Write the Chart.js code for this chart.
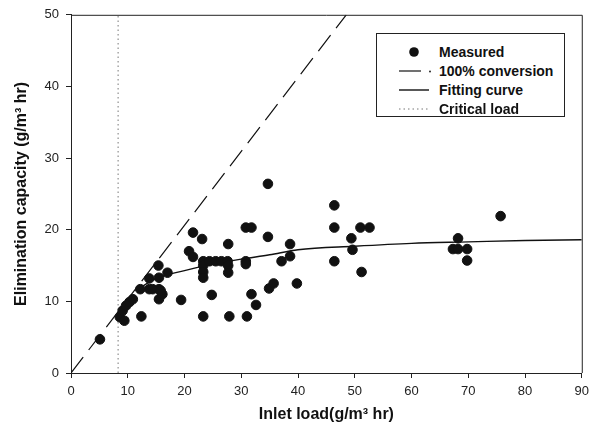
<!DOCTYPE html>
<html>
<head>
<meta charset="utf-8">
<script src="https://cdn.jsdelivr.net/npm/chart.js@4.4.0/dist/chart.umd.min.js"></script>
<style>
  body { margin: 0; background: #fff; }
  #wrap { position: relative; width: 595px; height: 437px; }
  #chart { position: absolute; left: 0; top: 0; }
  #legend {
    position: absolute; left: 376px; top: 33px; width: 189px; height: 84px;
    box-sizing: border-box; border: 1px solid #222; background: #fff;
    font: bold 14px "Liberation Sans", Arial, sans-serif; color: #111;
  }
  .row { position: absolute; left: 0; height: 18px; width: 100%; }
  .row svg { position: absolute; left: 20px; top: 0; }
  .row span { position: absolute; left: 62px; top: 0; line-height: 18px; }
</style>
</head>
<body>
<div id="wrap">
  <canvas id="chart" width="595" height="437"></canvas>
  <div id="legend">
    <div class="row" style="top:9px"><svg width="32" height="18"><circle cx="17" cy="9" r="4.8" fill="#111"/></svg><span>Measured</span></div>
    <div class="row" style="top:28px"><svg width="36" height="18"><line x1="2" y1="9" x2="24" y2="9" stroke="#111" stroke-width="1.2"/><circle cx="33" cy="9.5" r="0.9" fill="#111"/></svg><span>100% conversion</span></div>
    <div class="row" style="top:47px"><svg width="32" height="18"><line x1="2" y1="9" x2="32" y2="9" stroke="#111" stroke-width="1.4"/></svg><span>Fitting curve</span></div>
    <div class="row" style="top:66px"><svg width="32" height="18"><line x1="2" y1="9" x2="32" y2="9" stroke="#777" stroke-width="1" stroke-dasharray="1.5 3"/></svg><span>Critical load</span></div>
  </div>
</div>
<script>
// measured points (inlet load vs elimination capacity)
const measX = [5.1, 8.6, 9.4, 9.1, 9.7, 10.3, 10.9, 12.4, 12.2, 13.8, 13.8, 15.4, 15.5, 17.0, 15.5, 15.5, 16.1, 14.4, 15.8,
  19.4, 21.5, 23.1, 20.8, 21.5, 23.3, 23.3, 23.3, 23.3, 24.4, 25.5, 26.5, 27.6, 27.7, 27.7, 27.7, 24.8, 23.3, 27.9,
  31.0, 31.8, 32.6, 30.8, 31.8, 30.8, 30.8, 34.7, 34.7, 37.1, 38.6, 38.6, 34.9, 35.7, 39.8,
  46.4, 46.4, 46.4, 49.4, 49.6, 51.0, 52.6, 51.2, 68.2, 67.3, 68.2, 69.8, 69.8, 75.7];
const measY = [4.7, 7.8, 7.3, 8.7, 9.4, 9.9, 10.3, 7.9, 11.7, 11.7, 13.2, 15.0, 13.3, 14.0, 11.7, 10.3, 11.0, 11.7, 11.5,
  10.2, 19.6, 18.7, 17.0, 16.2, 15.6, 15.0, 14.1, 13.3, 15.6, 15.6, 15.6, 15.6, 15.0, 14.0, 18.0, 10.9, 7.9, 7.9,
  7.9, 11.0, 9.5, 20.3, 20.3, 15.6, 15.2, 26.4, 19.0, 15.6, 18.0, 16.3, 11.8, 12.5, 12.5,
  23.4, 20.3, 15.6, 18.8, 17.2, 20.3, 20.3, 14.1, 18.8, 17.3, 17.3, 17.3, 15.7, 21.9];

// fitting curve
const fitX = [12, 15, 20, 25, 30, 35, 40, 50, 60, 70, 80, 90];
const fitY = [11.8, 13.2, 14.3, 15.2, 15.9, 16.5, 17.2, 17.7, 18.1, 18.3, 18.5, 18.6];

// 100% conversion and critical load lines
const convX = [0, 48.5];
const convY = [0, 50];
const critX = [8.3, 8.3];
const critY = [0, 50];

const xTicks = [0, 10, 20, 30, 40, 50, 60, 70, 80, 90];
const yTicks = [0, 10, 20, 30, 40, 50];

function pairs(xs, ys) {
    return xs.map((x, i) => ({ x: x, y: ys[i] }));
}

// frame on top and right of the plot
const framePlugin = {
    id: 'frame',
    afterDatasetsDraw(chart) {
        const a = chart.chartArea;
        const ctx = chart.ctx;
        ctx.save();
        ctx.strokeStyle = '#222';
        ctx.lineWidth = 1;
        ctx.beginPath();
        ctx.moveTo(a.left, a.top + 0.5);
        ctx.lineTo(a.right + 0.5, a.top + 0.5);
        ctx.lineTo(a.right + 0.5, a.bottom);
        ctx.stroke();
        ctx.restore();
    }
};

const tickFont = { family: '"Liberation Sans", Arial, sans-serif', size: 13 };
const titleFont = { family: '"Liberation Sans", Arial, sans-serif', size: 16, weight: 'bold' };

new Chart(document.getElementById('chart'), {
    type: 'scatter',
    data: {
        datasets: [
            {
                label: 'Measured',
                data: pairs(measX, measY),
                backgroundColor: '#111',
                borderColor: '#111',
                pointRadius: 4.8,
                order: 0
            },
            {
                label: '100% conversion',
                type: 'line',
                data: pairs(convX, convY),
                borderColor: '#111',
                borderWidth: 1.2,
                borderDash: [20, 9],
                pointRadius: 0,
                fill: false,
                order: 1
            },
            {
                label: 'Fitting curve',
                type: 'line',
                data: pairs(fitX, fitY),
                borderColor: '#111',
                borderWidth: 1.4,
                cubicInterpolationMode: 'monotone',
                pointRadius: 0,
                fill: false,
                order: 1
            },
            {
                label: 'Critical load',
                type: 'line',
                data: pairs(critX, critY),
                borderColor: '#777',
                borderWidth: 1,
                borderDash: [1.5, 3],
                pointRadius: 0,
                fill: false,
                order: 1
            }
        ]
    },
    options: {
        responsive: false,
        animation: false,
        layout: { padding: { left: 0, right: 8, top: 13, bottom: 0 } },
        plugins: {
            legend: { display: false },
            tooltip: { enabled: false }
        },
        scales: {
            x: {
                type: 'linear',
                min: 0,
                max: 90,
                afterFit: s => { s.height = 64; },
                afterBuildTicks: s => { s.ticks = xTicks.map(v => ({ value: v })); },
                grid: { drawOnChartArea: false, drawTicks: true, tickLength: 5, color: '#222' },
                border: { display: true, color: '#222', width: 1 },
                ticks: { color: '#222', font: tickFont, padding: 6, maxRotation: 0 },
                title: { display: true, text: 'Inlet load(g/m³ hr)', color: '#111', font: titleFont, padding: { top: 0, bottom: 13 } }
            },
            y: {
                type: 'linear',
                min: 0,
                max: 50,
                afterFit: s => { s.width = 71; },
                afterBuildTicks: s => { s.ticks = yTicks.map(v => ({ value: v })); },
                grid: { drawOnChartArea: false, drawTicks: true, tickLength: 5, color: '#222' },
                border: { display: true, color: '#222', width: 1 },
                ticks: { color: '#222', font: tickFont, padding: 7 },
                title: { display: true, text: 'Elimination capacity (g/m³ hr)', color: '#111', font: titleFont, padding: { top: 12, bottom: 0 } }
            }
        }
    },
    plugins: [framePlugin]
});
</script>
</body>
</html>
